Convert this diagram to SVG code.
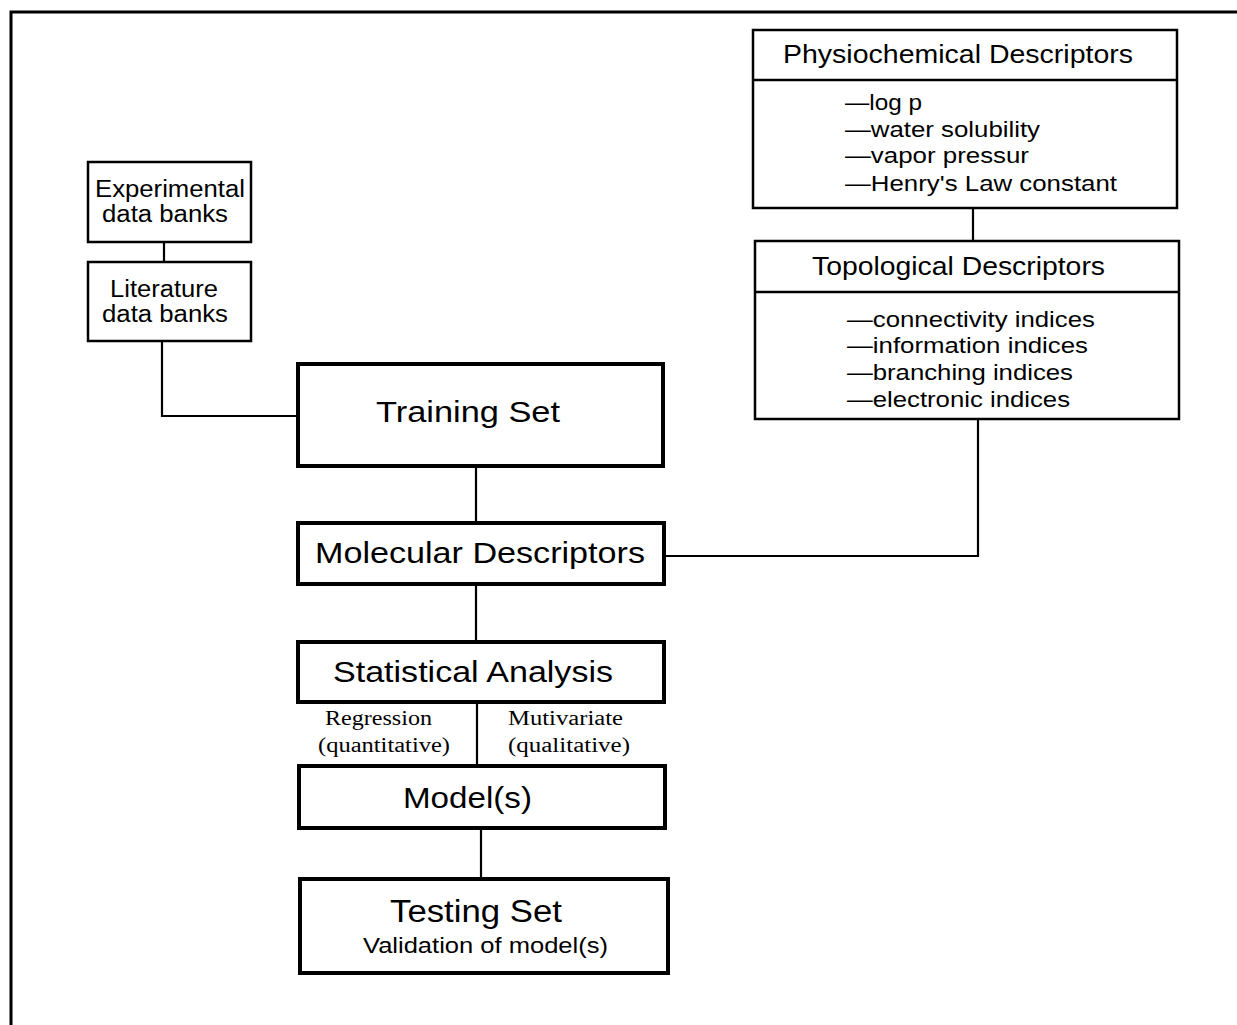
<svg xmlns="http://www.w3.org/2000/svg" width="1237" height="1025" viewBox="0 0 1237 1025">
<style>
.frame{fill:none;stroke:#000;stroke-width:3}
.thin{fill:#fff;stroke:#000;stroke-width:2.5}
.thick{fill:#fff;stroke:#000;stroke-width:4}
.div{stroke:#000;stroke-width:2.5}
.conn{fill:none;stroke:#000;stroke-width:2.2}
text{font-family:"Liberation Sans",Arial,sans-serif;fill:#000}
.serif{font-family:"Liberation Serif","Times New Roman",serif}
</style>
<rect width="1237" height="1025" fill="#fff"/>
<path class="frame" d="M11,1025 V12 H1237"/>
<g id="connectors">
<line class="conn" x1="164" y1="242" x2="164" y2="262"/>
<path class="conn" d="M162,341 V416 H298"/>
<line class="conn" x1="476" y1="466" x2="476" y2="522"/>
<path class="conn" d="M664,556 H978 V419"/>
<line class="conn" x1="973" y1="208" x2="973" y2="241"/>
<line class="conn" x1="476" y1="584" x2="476" y2="642"/>
<line class="conn" x1="477" y1="702" x2="477" y2="765"/>
<line class="conn" x1="481" y1="828" x2="481" y2="878"/>
</g>
<g id="experimental">
<rect class="thin" x="88" y="162" width="163" height="80"/>
<text x="95" y="197" font-size="23" textLength="150" lengthAdjust="spacingAndGlyphs">Experimental</text>
<text x="102" y="222" font-size="23" textLength="126" lengthAdjust="spacingAndGlyphs">data banks</text>
</g>
<g id="literature">
<rect class="thin" x="88" y="262" width="163" height="79"/>
<text x="110" y="297" font-size="23" textLength="108" lengthAdjust="spacingAndGlyphs">Literature</text>
<text x="102" y="322" font-size="23" textLength="126" lengthAdjust="spacingAndGlyphs">data banks</text>
</g>
<g id="physiochemical">
<rect class="thin" x="753" y="30" width="424" height="178"/>
<line class="div" x1="753" y1="80" x2="1177" y2="80"/>
<text x="783" y="63" font-size="26" textLength="350" lengthAdjust="spacingAndGlyphs">Physiochemical Descriptors</text>
<text x="845" y="110" font-size="22" textLength="77" lengthAdjust="spacingAndGlyphs">—log p</text>
<text x="845" y="137" font-size="22" textLength="195" lengthAdjust="spacingAndGlyphs">—water solubility</text>
<text x="845" y="163" font-size="22" textLength="184" lengthAdjust="spacingAndGlyphs">—vapor pressur</text>
<text x="845" y="191" font-size="22" textLength="272" lengthAdjust="spacingAndGlyphs">—Henry's Law constant</text>
</g>
<g id="topological">
<rect class="thin" x="755" y="241" width="424" height="178"/>
<line class="div" x1="755" y1="292" x2="1179" y2="292"/>
<text x="812" y="275" font-size="26" textLength="293" lengthAdjust="spacingAndGlyphs">Topological Descriptors</text>
<text x="847" y="327" font-size="22" textLength="248" lengthAdjust="spacingAndGlyphs">—connectivity indices</text>
<text x="847" y="353" font-size="22" textLength="241" lengthAdjust="spacingAndGlyphs">—information indices</text>
<text x="847" y="380" font-size="22" textLength="226" lengthAdjust="spacingAndGlyphs">—branching indices</text>
<text x="847" y="407" font-size="22" textLength="223" lengthAdjust="spacingAndGlyphs">—electronic indices</text>
</g>
<g id="training-set">
<rect class="thick" x="298" y="364" width="365" height="102"/>
<text x="376" y="422" font-size="30" textLength="184" lengthAdjust="spacingAndGlyphs">Training Set</text>
</g>
<g id="molecular-descriptors">
<rect class="thick" x="298" y="523" width="366" height="61"/>
<text x="315" y="563" font-size="30" textLength="330" lengthAdjust="spacingAndGlyphs">Molecular Descriptors</text>
</g>
<g id="statistical-analysis">
<rect class="thick" x="298" y="642" width="366" height="60"/>
<text x="333" y="682" font-size="29" textLength="280" lengthAdjust="spacingAndGlyphs">Statistical Analysis</text>
</g>
<g id="statistical-labels">
<text class="serif" x="325" y="725" font-size="20" textLength="107" lengthAdjust="spacingAndGlyphs">Regression</text>
<text class="serif" x="318" y="752" font-size="20" textLength="132" lengthAdjust="spacingAndGlyphs">(quantitative)</text>
<text class="serif" x="508" y="725" font-size="20" textLength="115" lengthAdjust="spacingAndGlyphs">Mutivariate</text>
<text class="serif" x="508" y="752" font-size="20" textLength="122" lengthAdjust="spacingAndGlyphs">(qualitative)</text>
</g>
<g id="models">
<rect class="thick" x="299" y="766" width="366" height="62"/>
<text x="403" y="808" font-size="30" textLength="129" lengthAdjust="spacingAndGlyphs">Model(s)</text>
</g>
<g id="testing-set">
<rect class="thick" x="300" y="879" width="368" height="94"/>
<text x="390" y="922" font-size="31" textLength="172" lengthAdjust="spacingAndGlyphs">Testing Set</text>
<text x="363" y="953" font-size="22" textLength="245" lengthAdjust="spacingAndGlyphs">Validation of model(s)</text>
</g>
</svg>
